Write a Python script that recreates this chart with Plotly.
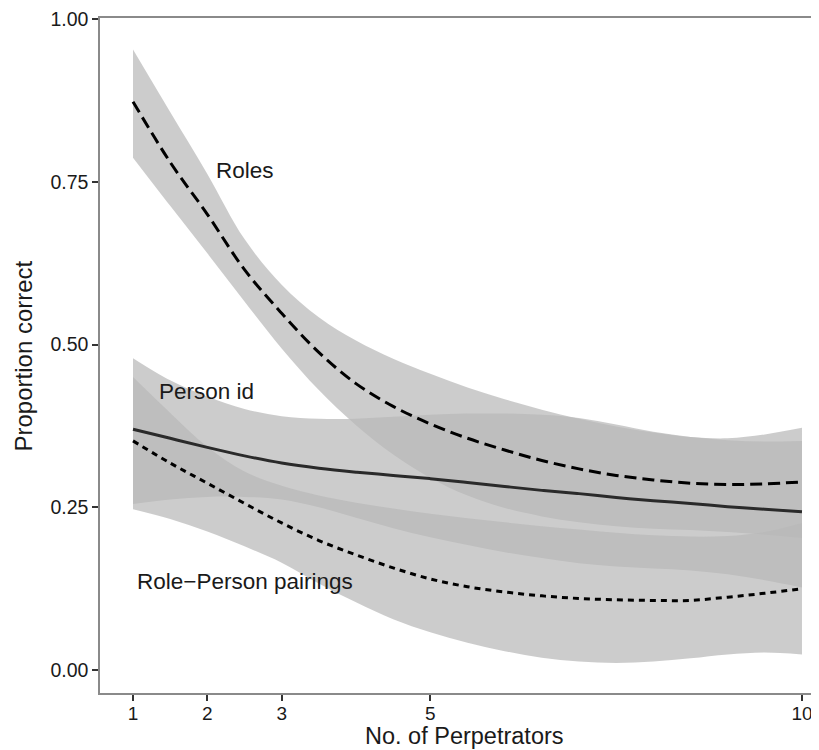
import plotly.graph_objects as go

# Number of perpetrators (x grid at which the fitted curves were read)
x_vals = [1, 1.5, 2, 2.5, 3, 3.5, 4, 4.5, 5, 5.5, 6, 6.5, 7, 7.5, 8, 8.5, 9, 9.5, 10]

# Roles
roles_mean = [0.873, 0.78, 0.70, 0.615, 0.548, 0.488, 0.440, 0.405, 0.378, 0.356, 0.338, 0.322,
              0.309, 0.299, 0.292, 0.287, 0.285, 0.286, 0.289]
roles_upper = [0.953, 0.857, 0.762, 0.662, 0.592, 0.542, 0.506, 0.478, 0.455, 0.434, 0.416, 0.400,
               0.386, 0.374, 0.365, 0.358, 0.356, 0.362, 0.372]
roles_lower = [0.787, 0.713, 0.640, 0.566, 0.494, 0.430, 0.376, 0.331, 0.295, 0.268, 0.249, 0.236,
               0.227, 0.221, 0.217, 0.215, 0.212, 0.208, 0.203]

# Person id
person_mean = [0.370, 0.356, 0.342, 0.329, 0.318, 0.310, 0.304, 0.299, 0.294, 0.288, 0.282, 0.276,
               0.271, 0.265, 0.260, 0.256, 0.251, 0.247, 0.243]
person_upper = [0.479, 0.445, 0.42, 0.401, 0.39, 0.386, 0.386, 0.389, 0.392, 0.394, 0.394, 0.392,
                0.387, 0.377, 0.366, 0.358, 0.353, 0.351, 0.352]
person_lower = [0.255, 0.262, 0.266, 0.266, 0.262, 0.250, 0.234, 0.218, 0.204, 0.192, 0.181, 0.172,
                0.164, 0.159, 0.156, 0.153, 0.147, 0.138, 0.127]

# Role-Person pairings
pairs_mean = [0.352, 0.318, 0.287, 0.256, 0.226, 0.199, 0.177, 0.157, 0.140, 0.128, 0.12, 0.114,
              0.110, 0.108, 0.107, 0.107, 0.112, 0.118, 0.125]
pairs_upper = [0.45, 0.395, 0.343, 0.305, 0.283, 0.268, 0.257, 0.248, 0.24, 0.233, 0.227, 0.221,
               0.216, 0.211, 0.207, 0.205, 0.206, 0.212, 0.226]
pairs_lower = [0.247, 0.232, 0.213, 0.19, 0.165, 0.133, 0.104, 0.078, 0.058, 0.042, 0.029, 0.019,
               0.013, 0.011, 0.013, 0.018, 0.024, 0.027, 0.024]

x_ticks = [1, 2, 3, 5, 10]
y_ticks = [0, 0.25, 0.5, 0.75, 1.0]
y_ticktext = ["0.00", "0.25", "0.50", "0.75", "1.00"]

labels = ["Roles", "Person id", "Role\u2212Person pairings"]
label_pos = [(2.51, 0.768), (1.99, 0.428), (2.51, 0.136)]

FILL = "rgba(185,185,185,0.72)"
FONT = "Liberation Sans, Arial, sans-serif"
TXT = "#1a1a1a"

# page body adds an 8px margin, so the figure is 8px smaller and margins shifted
W, H = 811, 742
ML, MR, MT, MB = 92, 0, 7, 57
PW, PH = W - ML - MR, H - MT - MB  # 719 x 678


def px_x(px):
    return (px - 100) / PW


def px_y(py):
    return (693 - py) / PH


fig = go.Figure()

for lo, up in [(roles_lower, roles_upper), (person_lower, person_upper), (pairs_lower, pairs_upper)]:
    fig.add_trace(go.Scatter(x=x_vals, y=lo, mode="lines", line=dict(width=0, shape="spline"),
                             hoverinfo="skip", showlegend=False))
    fig.add_trace(go.Scatter(x=x_vals, y=up, mode="lines", line=dict(width=0, shape="spline"),
                             fill="tonexty", fillcolor=FILL, hoverinfo="skip", showlegend=False))

fig.add_trace(go.Scatter(x=x_vals, y=person_mean, mode="lines",
                         line=dict(color="#2a2a2a", width=3, shape="spline"), showlegend=False))
fig.add_trace(go.Scatter(x=x_vals, y=roles_mean, mode="lines",
                         line=dict(color="black", width=3, dash="12px,6px", shape="spline"), showlegend=False))
fig.add_trace(go.Scatter(x=x_vals, y=pairs_mean, mode="lines",
                         line=dict(color="black", width=3, dash="6px,5px", shape="spline"), showlegend=False))

for txt, (lx, ly) in zip(labels, label_pos):
    fig.add_annotation(x=lx, y=ly, text=txt, showarrow=False, xanchor="center", yanchor="middle",
                       font=dict(family=FONT, size=22.5, color=TXT))

# axis titles
fig.add_annotation(xref="paper", yref="paper", x=px_x(465), y=px_y(736),
                   text="No. of Perpetrators", showarrow=False, xanchor="center", yanchor="middle",
                   font=dict(family=FONT, size=23.5, color=TXT))
fig.add_annotation(xref="paper", yref="paper", x=px_x(23), y=px_y(355),
                   text="Proportion correct", showarrow=False, textangle=-90,
                   xanchor="center", yanchor="middle",
                   font=dict(family=FONT, size=24, color=TXT))

fig.update_layout(
    width=W, height=H,
    margin=dict(l=ML, r=MR, t=MT, b=MB),
    paper_bgcolor="white", plot_bgcolor="white",
    font=dict(family=FONT, size=19, color=TXT),
    xaxis=dict(range=[0.556, 10.229], tickvals=x_ticks, ticks="outside", ticklen=6, tickwidth=1.5,
               tickcolor="#333333", showline=True, linecolor="#8a8a8a", linewidth=1.5, mirror=True,
               showgrid=False, zeroline=False, tickfont=dict(size=19, color=TXT),
               ticklabeloverflow="allow", ticklabelstandoff=-4),
    yaxis=dict(range=[-0.0352, 1.0015], tickvals=y_ticks, ticktext=y_ticktext, ticks="outside",
               ticklen=6, tickwidth=1.5, tickcolor="#333333", showline=True, linecolor="#8a8a8a",
               linewidth=1.5, showgrid=False, zeroline=False, tickfont=dict(size=19.5, color=TXT),
               ticklabeloverflow="allow"),
)

fig.write_html("out.html")
